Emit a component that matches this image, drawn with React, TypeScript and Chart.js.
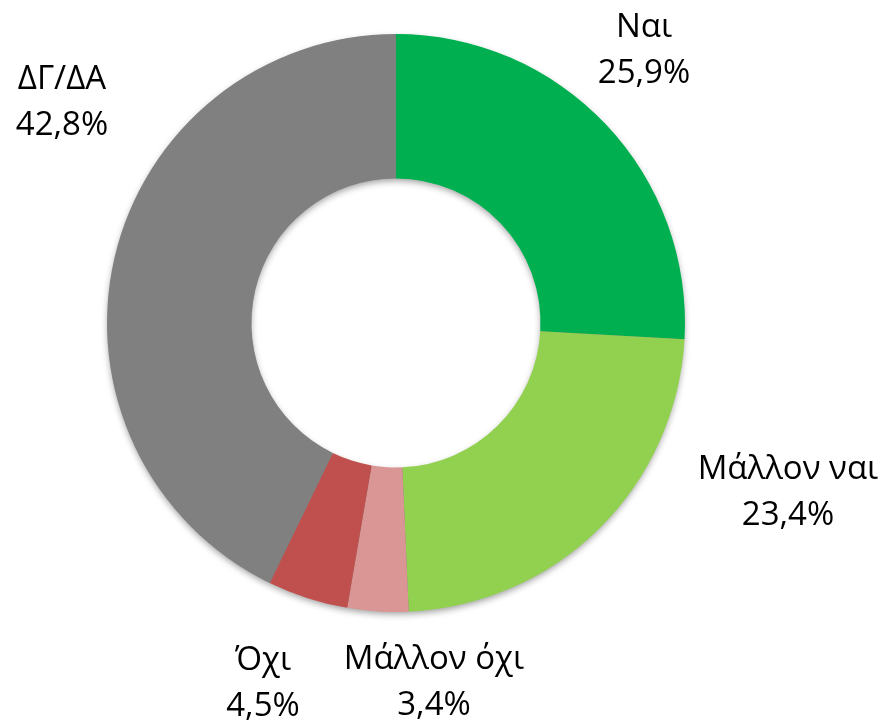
import React, { useEffect, useRef } from "react";
import { Chart, registerables } from "chart.js";

Chart.register(...registerables);

const categories = ["Ναι", "Μάλλον ναι", "Μάλλον όχι", "Όχι", "ΔΓ/ΔΑ"];
const values = [25.9, 23.4, 3.4, 4.5, 42.8];
const valueLabels = ["25,9%", "23,4%", "3,4%", "4,5%", "42,8%"];

const colors = ["#00B050", "#92D050", "#DA9694", "#C0504D", "#808080"];
// label block centre, relative to the chart centre (px)
const labelOffsets: [number, number][] = [
  [248, -275],
  [392, 167],
  [38, 357],
  [-133, 358],
  [-334, -223],
];
const FONT_SIZE = 33;
const LINE_GAP = 46;

const labelPlugin = {
  id: "outerLabels",
  beforeDatasetsDraw(chart: any) {
    const ctx = chart.ctx;
    const meta = chart.getDatasetMeta(0);
    const arc = meta.data[0];
    if (!arc) return;
    const { x, y, outerRadius, innerRadius } = arc;
    ctx.save();
    ctx.shadowColor = "rgba(0,0,0,0.4)";
    ctx.shadowBlur = 7;
    ctx.shadowOffsetX = 0;
    ctx.shadowOffsetY = 3;
    ctx.fillStyle = "#808080";
    ctx.beginPath();
    ctx.arc(x, y, outerRadius - 1, 0, Math.PI * 2);
    ctx.arc(x, y, innerRadius + 1, 0, Math.PI * 2, true);
    ctx.closePath();
    ctx.fill("evenodd");
    ctx.restore();
  },
  afterDatasetsDraw(chart: any) {
    const ctx = chart.ctx;
    const meta = chart.getDatasetMeta(0);
    ctx.save();
    ctx.font = `${FONT_SIZE}px "Open Sans"`;
    ctx.fillStyle = "#000000";
    ctx.textAlign = "center";
    ctx.textBaseline = "alphabetic";
    const capHalf = (FONT_SIZE * 0.714) / 2;
    meta.data.forEach((arc: any, i: number) => {
      const cx = arc.x + labelOffsets[i][0];
      const cy = arc.y + labelOffsets[i][1];
      ctx.fillText(categories[i], cx, cy - LINE_GAP / 2 + capHalf);
      ctx.fillText(valueLabels[i], cx, cy + LINE_GAP / 2 + capHalf);
    });
    ctx.restore();
  },
};

export default function App() {
  const ref = useRef<HTMLCanvasElement>(null);
  useEffect(() => {
    if (!ref.current) return;
    const chart = new Chart(ref.current, {
      type: "doughnut",
      data: {
        labels: categories,
        datasets: [
          {
            data: values,
            backgroundColor: colors,
            borderWidth: 0,
          },
        ],
      },
      options: {
        animation: false,
        responsive: true,
        maintainAspectRatio: false,
        cutout: "50%",
        layout: { padding: { left: 107, right: 198, top: 34, bottom: 111 } },
        plugins: {
          legend: { display: false },
          tooltip: { enabled: false },
        },
      },
      plugins: [labelPlugin],
    });
    return () => chart.destroy();
  }, []);
  return (
    <div
      style={{
        position: "fixed",
        left: 0,
        top: 0,
        width: 883,
        height: 723,
        background: "#ffffff",
      }}
    >
      <canvas ref={ref} />
    </div>
  );
}
